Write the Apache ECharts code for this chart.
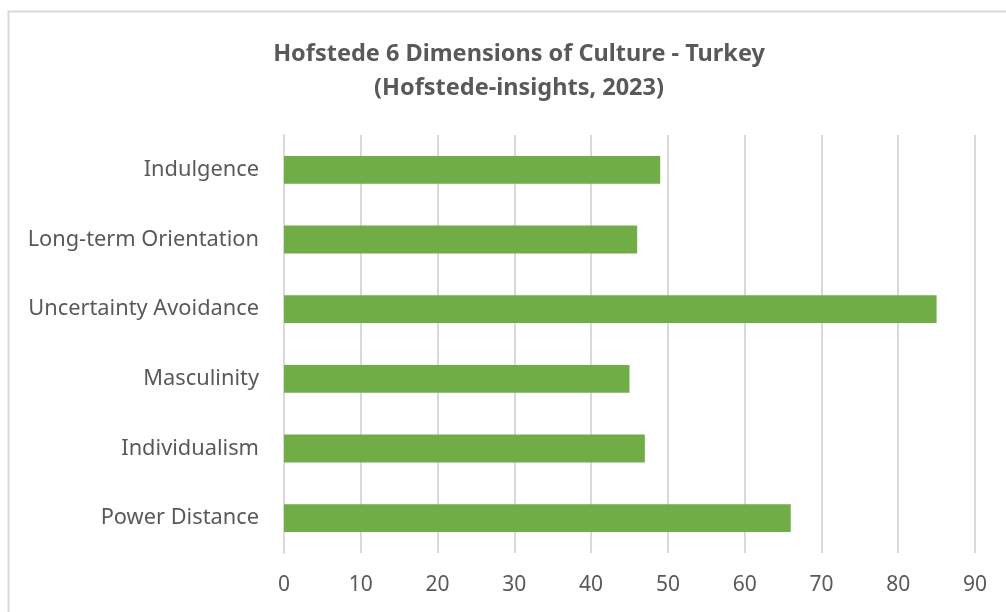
<!DOCTYPE html>
<html><head><meta charset="utf-8">
<script src="https://cdn.jsdelivr.net/npm/echarts@6/dist/echarts.min.js"></script>
<style>html,body{margin:0;padding:0;background:#fff}#c{width:1006px;height:612px}</style>
</head><body><div id="c"></div>
<script>
const categories = ["Power Distance","Individualism","Masculinity","Uncertainty Avoidance","Long-term Orientation","Indulgence"];
const scores = [66,47,45,85,46,49];
const titleLines = ["Hofstede 6 Dimensions of Culture - Turkey","(Hofstede-insights, 2023)"];
const FONT = "Noto Sans";
const chart = echarts.init(document.getElementById('c'), null, {renderer:'canvas'});
chart.setOption({
  animation:false,
  backgroundColor:'#fff',
  graphic:[{type:'rect',shape:{x:8.5,y:11.5,width:1100,height:700},style:{fill:'none',stroke:'#d9d9d9',lineWidth:2},silent:true}],
  title:{text:titleLines.join('\n'),left:514,top:32,textAlign:'center',
    textStyle:{fontFamily:FONT,fontWeight:'bold',fontSize:23.5,color:'#595959',lineHeight:34}},
  grid:{left:284,right:31,top:135,bottom:59,containLabel:false},
  xAxis:{type:'value',min:0,max:90,interval:10,
    axisLine:{show:false},axisTick:{show:false},
    axisLabel:{fontFamily:FONT,fontSize:21,color:'#595959',margin:22},
    splitLine:{show:true,lineStyle:{color:'#d9d9d9',width:2}}},
  yAxis:{type:'category',data:categories,
    axisLine:{show:true,lineStyle:{color:'#d9d9d9',width:2}},axisTick:{show:false},
    axisLabel:{fontFamily:FONT,fontSize:21.8,color:'#595959',margin:25,padding:[4,0,0,0]}},
  series:[{type:'bar',data:scores,barWidth:'40%',itemStyle:{color:'#70ad47'}}]
});
</script></body></html>
